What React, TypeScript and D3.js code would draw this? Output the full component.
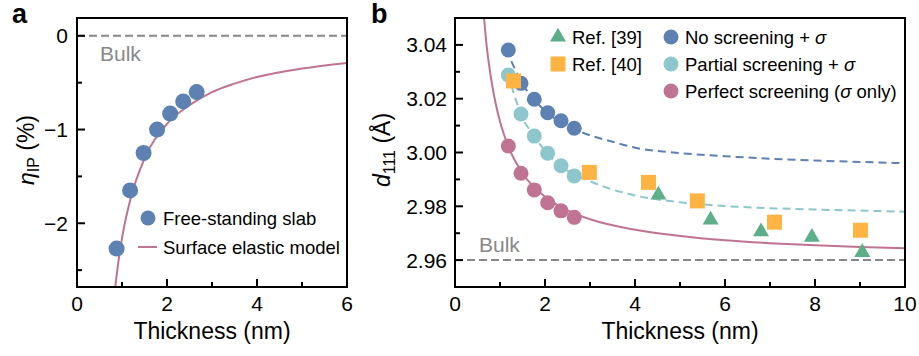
import React from "react";
import * as d3 from "d3";

// ---------- Panel a data ----------
const slabT = [0.88, 1.18, 1.48, 1.78, 2.07, 2.36, 2.66];
const slabEta = [-2.27, -1.65, -1.25, -1.0, -0.83, -0.7, -0.6];
const modelT = [0.8, 0.85, 0.9, 1.0, 1.2, 1.5, 2.0, 2.5, 3.0, 3.5, 4.0, 5.0, 6.0];
const modelEta = [-2.92, -2.68, -2.48, -2.16, -1.72, -1.31, -0.94, -0.74, -0.6, -0.51, -0.44, -0.35, -0.29];
const aXTicks = [0, 2, 4, 6];
const aXMinor = [1, 3, 5];
const aYTicks = [0, -1, -2];
const aYMinor = [-0.5, -1.5, -2.5];

// ---------- Panel b data ----------
const simT = [1.185, 1.467, 1.762, 2.06, 2.356, 2.65];
const noScr = [3.0381, 3.0257, 3.0198, 3.0148, 3.0118, 3.009];
const partScr = [3.0288, 3.0143, 3.0061, 2.9997, 2.9951, 2.9913];
const perfScr = [3.0024, 2.9923, 2.9861, 2.9813, 2.9783, 2.9759];
const ref39T = [4.52, 5.68, 6.8, 7.93, 9.05];
const ref39D = [2.9842, 2.9749, 2.9706, 2.9685, 2.9629];
const ref40T = [1.3, 2.985, 4.3, 5.385, 7.1, 9.01];
const ref40D = [3.0266, 2.9926, 2.9889, 2.982, 2.9741, 2.9711];
const noFitT = [1.25, 1.5, 1.75, 2.0, 2.5, 3.0, 3.5, 4, 5, 6, 7, 8, 9, 10];
const noFitD = [3.034, 3.0255, 3.0198, 3.0155, 3.0098, 3.0064, 3.004, 3.0018, 2.9998, 2.9986, 2.9977, 2.997, 2.9965, 2.996];
const partFitT = [1.25, 1.5, 1.75, 2.0, 2.5, 3.0, 3.5, 4, 5, 6, 7, 8, 9, 10];
const partFitD = [3.025, 3.013, 3.0063, 3.0007, 2.9932, 2.9893, 2.9862, 2.984, 2.9815, 2.9801, 2.9793, 2.9788, 2.9784, 2.978];
const perfFitT = [0.62, 0.7, 0.8, 0.9, 1.0, 1.2, 1.5, 2.0, 2.5, 3.0, 4, 5, 6, 7, 8, 9, 10];
const perfFitD = [3.055, 3.0402, 3.0277, 3.0185, 3.0115, 3.0016, 2.9923, 2.9835, 2.9785, 2.9752, 2.9713, 2.969, 2.9674, 2.9663, 2.9655, 2.9649, 2.9644];
const bulkD = 2.96;
const bXTicks = [0, 2, 4, 6, 8, 10];
const bXMinor = [1, 3, 5, 7, 9];
const bYTicks = [2.96, 2.98, 3.0, 3.02, 3.04];
const bYMinor = [2.95, 2.97, 2.99, 3.01, 3.03, 3.05];

const C_BLUE = "#5d81b3";
const C_TEAL = "#8dc6cc";
const C_PINK = "#c07392";
const C_GREEN = "#5caf89";
const C_ORANGE = "#fdb443";
const C_GRAY = "#888888";
const FONT = "Liberation Sans, Arial, Helvetica, sans-serif";

const TICK_FS = 21;
const TITLE_FS = 23;
const LEG_FS = 18.5;

function Frame({ x0, x1, y0, y1 }: any) {
  return <rect x={x0} y={y0} width={x1 - x0} height={y1 - y0} fill="none" stroke="#000" strokeWidth={2} />;
}

function PanelA() {
  const L = 77, R = 347, T = 18, B = 287;
  const x = d3.scaleLinear().domain([0, 6]).range([L, R]);
  const y = d3.scaleLinear().domain([-2.68, 0.19]).range([B, T]);
  const line = d3.line<number>().x((_, i) => x(modelT[i])).y((d) => y(d)).curve(d3.curveMonotoneX);
  return (
    <g>
      <defs>
        <clipPath id="clipA"><rect x={L} y={T} width={R - L} height={B - T} /></clipPath>
      </defs>
      <g clipPath="url(#clipA)">
        <line x1={L} x2={R} y1={y(0)} y2={y(0)} stroke={C_GRAY} strokeWidth={2} strokeDasharray="8,4" />
        <path d={line(modelEta) || ""} fill="none" stroke={C_PINK} strokeWidth={2} />
        {slabT.map((t, i) => (
          <circle key={i} cx={x(t)} cy={y(slabEta[i])} r={8} fill={C_BLUE} />
        ))}
      </g>
      <text x={100} y={61} fontSize={21} fill={C_GRAY} fontFamily={FONT}>Bulk</text>
      {/* ticks */}
      {aXTicks.map((t) => (
        <g key={"x" + t}>
          <line x1={x(t)} x2={x(t)} y1={B} y2={B - 8} stroke="#000" strokeWidth={2} />
          <text x={x(t)} y={311} fontSize={TICK_FS} textAnchor="middle" fontFamily={FONT}>{t}</text>
        </g>
      ))}
      {aXMinor.map((t) => (
        <line key={"xm" + t} x1={x(t)} x2={x(t)} y1={B} y2={B - 5} stroke="#000" strokeWidth={2} />
      ))}
      {aYTicks.map((t) => (
        <g key={"y" + t}>
          <line x1={L} x2={L + 8} y1={y(t)} y2={y(t)} stroke="#000" strokeWidth={2} />
          <text x={L - 9} y={y(t)} dy="0.36em" fontSize={TICK_FS} textAnchor="end" fontFamily={FONT}>
            {t === 0 ? "0" : "\u2212" + Math.abs(t)}
          </text>
        </g>
      ))}
      {aYMinor.map((t) => (
        <line key={"ym" + t} x1={L} x2={L + 5} y1={y(t)} y2={y(t)} stroke="#000" strokeWidth={2} />
      ))}
      <Frame x0={L} x1={R} y0={T} y1={B} />
      {/* legend */}
      <circle cx={148} cy={218} r={7.5} fill={C_BLUE} />
      <text x={163} y={218} dy="0.36em" fontSize={LEG_FS} fontFamily={FONT}>Free-standing slab</text>
      <line x1={138} x2={157} y1={247} y2={247} stroke={C_PINK} strokeWidth={2} />
      <text x={163} y={247} dy="0.36em" fontSize={LEG_FS} fontFamily={FONT}>Surface elastic model</text>
      {/* titles */}
      <text x={212} y={339} fontSize={TITLE_FS} textAnchor="middle" fontFamily={FONT}>Thickness (nm)</text>
      <text transform="translate(34,150) rotate(-90)" fontSize={TITLE_FS} textAnchor="middle" fontFamily={FONT}>
        <tspan fontStyle="italic">η</tspan>
        <tspan fontSize={16} dy="5">IP</tspan>
        <tspan dy="-5"> (%)</tspan>
      </text>
      <text x={12} y={23} fontSize={27} fontWeight="bold" fontFamily={FONT}>a</text>
    </g>
  );
}

function PanelB() {
  const L = 455, R = 905, T = 18, B = 287;
  const x = d3.scaleLinear().domain([0, 10]).range([L, R]);
  const y = d3.scaleLinear().domain([2.95, 3.05]).range([B, T]);
  const mk = (ts: number[]) => d3.line<number>().x((_, i) => x(ts[i])).y((d) => y(d)).curve(d3.curveMonotoneX);
  const tri = d3.symbol().type(d3.symbolTriangle).size(110);
  const legX1 = 558, legX2 = 671, legText1 = 572, legText2 = 685;
  const legY = [37, 64, 91];
  return (
    <g>
      <defs>
        <clipPath id="clipB"><rect x={L} y={T} width={R - L} height={B - T} /></clipPath>
      </defs>
      <g clipPath="url(#clipB)">
        <line x1={L} x2={R} y1={y(bulkD)} y2={y(bulkD)} stroke={C_GRAY} strokeWidth={2} strokeDasharray="8,4" />
        <path d={mk(noFitT)(noFitD) || ""} fill="none" stroke={C_BLUE} strokeWidth={2} strokeDasharray="8,5" />
        <path d={mk(partFitT)(partFitD) || ""} fill="none" stroke={C_TEAL} strokeWidth={2} strokeDasharray="8,5" />
        <path d={mk(perfFitT)(perfFitD) || ""} fill="none" stroke={C_PINK} strokeWidth={2} />
        {simT.map((t, i) => (
          <circle key={"n" + i} cx={x(t)} cy={y(noScr[i])} r={7.5} fill={C_BLUE} />
        ))}
        {simT.map((t, i) => (
          <circle key={"p" + i} cx={x(t)} cy={y(partScr[i])} r={7.5} fill={C_TEAL} />
        ))}
        {simT.map((t, i) => (
          <circle key={"f" + i} cx={x(t)} cy={y(perfScr[i])} r={7.5} fill={C_PINK} />
        ))}
        {ref40T.map((t, i) => (
          <rect key={"s" + i} x={x(t) - 7.5} y={y(ref40D[i]) - 7.5} width={15} height={15} fill={C_ORANGE} />
        ))}
        {ref39T.map((t, i) => (
          <path key={"t" + i} d={tri() || ""} transform={`translate(${x(t)},${y(ref39D[i])})`} fill={C_GREEN} />
        ))}
      </g>
      <text x={479} y={252} fontSize={21} fill={C_GRAY} fontFamily={FONT}>Bulk</text>
      {bXTicks.map((t) => (
        <g key={"x" + t}>
          <line x1={x(t)} x2={x(t)} y1={B} y2={B - 8} stroke="#000" strokeWidth={2} />
          <text x={x(t)} y={311} fontSize={TICK_FS} textAnchor="middle" fontFamily={FONT}>{t}</text>
        </g>
      ))}
      {bXMinor.map((t) => (
        <line key={"xm" + t} x1={x(t)} x2={x(t)} y1={B} y2={B - 5} stroke="#000" strokeWidth={2} />
      ))}
      {bYTicks.map((t) => (
        <g key={"y" + t}>
          <line x1={L} x2={L + 8} y1={y(t)} y2={y(t)} stroke="#000" strokeWidth={2} />
          <text x={L - 8} y={y(t)} dy="0.36em" fontSize={TICK_FS} textAnchor="end" fontFamily={FONT}>{t.toFixed(2)}</text>
        </g>
      ))}
      {bYMinor.map((t) => (
        <line key={"ym" + t} x1={L} x2={L + 5} y1={y(t)} y2={y(t)} stroke="#000" strokeWidth={2} />
      ))}
      <Frame x0={L} x1={R} y0={T} y1={B} />
      {/* legend */}
      <path d={tri() || ""} transform={`translate(${legX1},${legY[0]})`} fill={C_GREEN} />
      <text x={legText1} y={legY[0]} dy="0.36em" fontSize={LEG_FS} fontFamily={FONT}>Ref. [39]</text>
      <rect x={legX1 - 7.5} y={legY[1] - 7.5} width={15} height={15} fill={C_ORANGE} />
      <text x={legText1} y={legY[1]} dy="0.36em" fontSize={LEG_FS} fontFamily={FONT}>Ref. [40]</text>
      <circle cx={legX2} cy={legY[0]} r={7.5} fill={C_BLUE} />
      <text x={legText2} y={legY[0]} dy="0.36em" fontSize={LEG_FS} fontFamily={FONT}>
        No screening + <tspan fontStyle="italic">σ</tspan>
      </text>
      <circle cx={legX2} cy={legY[1]} r={7.5} fill={C_TEAL} />
      <text x={legText2} y={legY[1]} dy="0.36em" fontSize={LEG_FS} fontFamily={FONT}>
        Partial screening + <tspan fontStyle="italic">σ</tspan>
      </text>
      <circle cx={legX2} cy={legY[2]} r={7.5} fill={C_PINK} />
      <text x={legText2} y={legY[2]} dy="0.36em" fontSize={LEG_FS} fontFamily={FONT}>
        Perfect screening (<tspan fontStyle="italic">σ</tspan> only)
      </text>
      {/* titles */}
      <text x={680} y={339} fontSize={TITLE_FS} textAnchor="middle" fontFamily={FONT}>Thickness (nm)</text>
      <text transform="translate(390,150) rotate(-90)" fontSize={TITLE_FS} textAnchor="middle" fontFamily={FONT}>
        <tspan fontStyle="italic">d</tspan>
        <tspan fontSize={16} dy="5">111</tspan>
        <tspan dy="-5"> (Å)</tspan>
      </text>
      <text x={371} y={23} fontSize={27} fontWeight="bold" fontFamily={FONT}>b</text>
    </g>
  );
}

export default function App() {
  return (
    <svg width={919} height={356} style={{ position: "absolute", left: 0, top: 0 }} fontFamily={FONT}>
      <rect width={919} height={356} fill="#fff" />
      <PanelA />
      <PanelB />
    </svg>
  );
}
